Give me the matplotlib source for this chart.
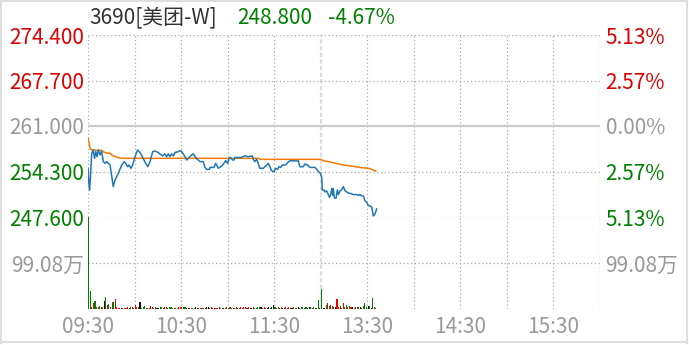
import matplotlib
matplotlib.use("Agg")
import matplotlib.pyplot as plt
import numpy as np
from matplotlib.lines import Line2D

plt.rcParams["font.family"] = ["Noto Sans CJK SC", "DejaVu Sans"]

# --- data (trading minutes since 09:30, lunch break removed) ---
prev_close = 261.0
last_price = 248.8

price_min = [0, 0.5, 1, 1.6, 2.4, 3.4, 4.2, 5, 5.8, 6.7, 7.8, 8.8, 9.9, 11, 12, 13.1, 14.2,
             16.3, 17.4, 19.5, 20.6, 21.7, 23.4, 24.3, 25.6, 26.4, 27.7, 28.8, 30.3, 32, 33.5,
             35, 37.2, 38.5, 40, 41.7, 43.2, 45.3, 46.4, 48.1, 49.6, 50.7, 51.8, 52.8, 53.9,
             55, 56.1, 58.2, 59.3, 60.4, 61.4, 63.6, 64.7, 66.8, 67.9, 69, 70.5, 72.2, 74.3,
             75.4, 76.5, 78.2, 78.6, 81.2, 82.3, 83.3, 84, 86.1, 87.6, 88.7, 90, 90.9, 91.9,
             93.2, 94.1, 94.7, 98.6, 101.1, 103.3, 105.9, 106.5, 107.6, 108.7, 109.7, 110.8,
             113, 115.1, 116.2, 117.3, 118.3, 120, 120.9, 122.2, 123.1, 124.3, 125.2, 127.3,
             128.6, 130.1, 132.3, 135.5, 136.6, 138.7, 139.8, 141.5, 143, 145.2, 146.3, 147.4,
             148.5, 149.5, 150.6, 151, 152.1, 152.8, 153.8, 154.9, 155.6, 156.4, 157.1, 157.7,
             158.1, 158.8, 159.9, 160.7, 161.4, 162.4, 163.5, 164.6, 165.7, 166.7, 167.8,
             168.9, 171, 173.2, 174.2, 175.3, 176.4, 177.5, 178.5, 179.6, 180.7, 181.8, 182.8,
             183.9, 184.6, 185.4, 186]
price_val = [254.77, 252.8, 251.6, 253.5, 256.98, 257.47, 256.24, 257.22, 256.48, 257.47,
             256.73, 257.3, 255.75, 255.5, 255.75, 255.5, 255.26, 252.07, 253.05, 254.03,
             254.62, 255.26, 255.75, 255.5, 255.01, 255.26, 254.77, 255.26, 256.48, 257.47,
             257.1, 256.48, 255.5, 255.01, 255.75, 257.22, 257.3, 257.1, 256.88, 256.6, 256.9,
             256.48, 256.9, 256.48, 256.9, 256.6, 257.1, 257.22, 257.37, 257.22, 256.9, 255.99,
             256.24, 256.73, 256.9, 256.48, 256.09, 255.75, 255.75, 254.9, 254.62, 254.62,
             254.9, 254.9, 255.5, 255.1, 254.77, 255.1, 255.5, 255.9, 255.5, 256.24, 256.36,
             255.99, 255.99, 256.36, 256.36, 256.6, 256.48, 256.6, 256.1, 255.75, 256.1, 255.5,
             254.77, 254.77, 255.26, 255.5, 255.01, 254.4, 254.28, 254.77, 254.62, 255.01,
             254.9, 255.26, 255.26, 255.6, 255.87, 255.87, 255.87, 255.0, 255.0, 255.4, 255.26,
             254.9, 254.9, 254.9, 254.62, 254.28, 254.13, 253.5, 251.58, 251.58, 251.3, 251.45,
             250.9, 250.5, 250.9, 251.8, 250.8, 251.8, 250.4, 250.4, 251.58, 250.9, 251.45,
             251.58, 252.07, 251.45, 251.3, 251.1, 251.1, 250.9, 250.9, 250.8, 250.9, 250.7,
             250.7, 250.0, 249.75, 249.3, 249.2, 249.12, 247.76, 247.9, 248.3, 248.8]

avg_min = [0, 0.7, 1.5, 3, 8.8, 10, 12, 14.2, 15.5, 17.5, 20, 22, 110, 111, 150, 151.5, 155,
           158, 161.5, 164.5, 170, 175.3, 180.7, 182.8, 185, 185.5]
avg_val = [259.2, 258.5, 257.6, 257.45, 257.4, 257.2, 257.0, 257.0, 256.7, 256.5, 256.3,
           256.24, 256.24, 256.09, 256.09, 255.9, 255.75, 255.6, 255.4, 255.26, 255.1, 254.9,
           254.77, 254.62, 254.4, 254.35]

# volume per minute, in 万 shares; r = up, g = down, k = flat
volume = [198.2, 38.8, 4.3, 12.2, 17.0, 5.0, 5.0, 6.5, 5.0, 4.3,
          17.2, 25.8, 8.6, 10.0, 5.0, 14.3, 15.8, 21.5, 3.6, 2.2,
          2.2, 1.4, 2.2, 2.2, 1.4, 3.6, 2.2, 3.6, 5.0, 2.2,
          8.6, 5.0, 4.3, 15.0, 2.2, 5.0, 5.7, 2.2, 1.4, 2.2,
          5.7, 3.6, 2.2, 3.6, 1.4, 2.2, 4.3, 3.6, 1.4, 4.3,
          4.3, 2.2, 3.6, 3.6, 2.9, 2.2, 2.2, 1.4, 3.6, 5.0,
          3.6, 4.3, 4.3, 1.4, 2.9, 2.2, 2.9, 2.2, 2.2, 3.6,
          2.2, 2.9, 2.2, 2.9, 1.4, 2.2, 4.3, 4.3, 2.2, 3.6,
          2.9, 2.2, 2.9, 2.2, 3.6, 2.2, 2.9, 2.2, 2.2, 3.6,
          2.2, 3.6, 2.9, 2.2, 1.4, 3.6, 2.2, 2.9, 4.3, 2.2,
          3.6, 4.3, 2.2, 4.3, 2.2, 2.9, 3.6, 2.2, 2.9, 4.3,
          4.3, 4.3, 2.2, 3.6, 2.2, 2.9, 3.6, 2.2, 3.6, 8.6,
          4.3, 2.2, 4.3, 2.9, 4.3, 2.2, 1.4, 4.3, 2.9, 4.3,
          2.2, 1.4, 3.6, 2.2, 2.2, 3.6, 2.9, 3.6, 3.6, 2.2,
          4.3, 2.9, 3.6, 4.3, 2.9, 3.6, 2.2, 2.9, 19.4, 1.4,
          43.0, 1.4, 2.2, 8.6, 13.0, 7.2, 8.6, 7.2, 5.0, 4.3,
          21.5, 5.0, 5.7, 2.9, 13.0, 4.3, 8.6, 5.0, 5.7, 3.6,
          3.6, 2.2, 5.0, 3.6, 3.6, 4.3, 2.2, 7.2, 12.0, 5.0,
          5.7, 7.2, 2.9, 24.4, 5.0, 2.2]
vol_dir = ("ggrrggrgrg" "kgrgrggrrr" "rkrgrrggrg" "rrgkggg rgr".replace(" ", "")
           + "rrggkkggrr" "rgggg rrgrr".replace(" ", "") + "rggkkrrggk" "ggrrgkkkgr"
           + "rkrrggrkgr" "rgrkrrkgrr" "rrrrkkrggg" "gkrrrkkgkk" "gggrrkkrrr"
           "kkrggkgggg" "gkkgggkggk" "gkkgrgrrgk" "rrgrrggrgr" "kgrgrkggg" "gkgkgrg")

time_labels = ["09:30", "10:30", "11:30", "13:30", "14:30", "15:30"]
time_pos = [0, 60, 120, 180, 240, 300]

price_ticks = [247.6, 254.3, 261.0, 267.7, 274.4]
price_labels = ["247.600", "254.300", "261.000", "267.700", "274.400"]
pct_labels = ["5.13%", "2.57%", "0.00%", "2.57%", "5.13%"]
vol_tick = 99.08
vol_label = "99.08万"

RED, GREEN, GRAY = "#dd0000", "#008000", "#999999"
tick_colors = [GREEN, GREEN, GRAY, RED, RED]
bar_colors = {"r": "#ee0000", "g": "#008000", "k": "#111111"}
FS = 15

W, H = 689, 345
fig = plt.figure(figsize=(W / 100, H / 100), dpi=100)
ax = fig.add_axes([88 / W, 1 - 217 / H, 512 / W, 182 / H])
axv = fig.add_axes([88 / W, 1 - 309 / H, 512 / W, 92 / H], sharex=ax)

grid_kw = dict(color="#aaaaaa", lw=0.9, linestyle=(0, (1, 2)))
for a in (ax, axv):
    a.set_xlim(0, 330)
    for s in a.spines.values():
        s.set_visible(False)
    for m in range(0, 331, 30):
        if m == 150:
            a.axvline(m, color="#dddddd", lw=1.6, linestyle=(0, (2, 1)), zorder=1)
        else:
            a.axvline(m, zorder=1, **grid_kw)

ax.set_ylim(247.6, 274.4)
for p in price_ticks:
    if p == prev_close:
        ax.axhline(p, color="#cccccc", lw=1.6, zorder=1)
    else:
        ax.axhline(p, zorder=1, **grid_kw)

ax.plot(avg_min, avg_val, color="#f47a00", lw=1.1, zorder=3)
ax.plot(price_min, price_val, color="#1f77b4", lw=1.1, zorder=4)

ax.set_yticks(price_ticks)
ax.set_yticklabels(price_labels)
ax.tick_params(axis="y", length=0, pad=3, labelsize=FS)
ax.tick_params(axis="x", bottom=False, labelbottom=False)
for lbl, c in zip(ax.get_yticklabels(), tick_colors):
    lbl.set_color(c)

axr = ax.twinx()
axr.set_ylim(ax.get_ylim())
axr.set_yticks(price_ticks)
axr.set_yticklabels(pct_labels)
axr.tick_params(axis="y", length=0, pad=4, labelsize=FS)
for s in axr.spines.values():
    s.set_visible(False)
for lbl, c in zip(axr.get_yticklabels(), tick_colors):
    lbl.set_color(c)

# volume
vmax = 2 * vol_tick
axv.set_ylim(0, vmax)
axv.axhline(vol_tick, zorder=1, **grid_kw)
axv.axhline(0, color="#cccccc", lw=0.9, linestyle=(0, (1, 2)), zorder=1)
xs = np.arange(len(volume)) + 0.5
axv.bar(xs, volume, width=0.7, color=[bar_colors[c] for c in vol_dir[:len(volume)]],
        zorder=3, linewidth=0)
axv.set_yticks([vol_tick])
axv.set_yticklabels([vol_label])
axv.tick_params(axis="y", length=0, pad=3, labelsize=FS, labelcolor=GRAY)
axv.set_xticks(time_pos)
axv.set_xticklabels(time_labels)
axv.tick_params(axis="x", length=0, pad=5, labelsize=FS, labelcolor=GRAY)

axvr = axv.twinx()
axvr.set_ylim(0, vmax)
axvr.set_yticks([vol_tick])
axvr.set_yticklabels([vol_label])
axvr.tick_params(axis="y", length=0, pad=4, labelsize=FS, labelcolor=GRAY)
for s in axvr.spines.values():
    s.set_visible(False)

# header
chg = (last_price / prev_close - 1) * 100
fig.text(89 / W, 1 - 18 / H, "3690[美团-W]", color="#333333", fontsize=FS, va="center")
fig.text(237 / W, 1 - 18 / H, f"{last_price:.3f}", color=GREEN, fontsize=FS, va="center")
fig.text(328 / W, 1 - 18 / H, f"{chg:.2f}%", color=GREEN, fontsize=FS, va="center")

# outer frame
for xy in ([(0.5, 0.5), (1, 342.5)], [(686.5, 686.5), (1, 342.5)],
           [(0, 687), (1, 1)], [(0, 687), (342, 342)]):
    fig.add_artist(Line2D([v / W for v in xy[0]], [1 - v / H for v in xy[1]],
                          color="#dedede", lw=1.5))

fig.savefig("out.png", dpi=100)
